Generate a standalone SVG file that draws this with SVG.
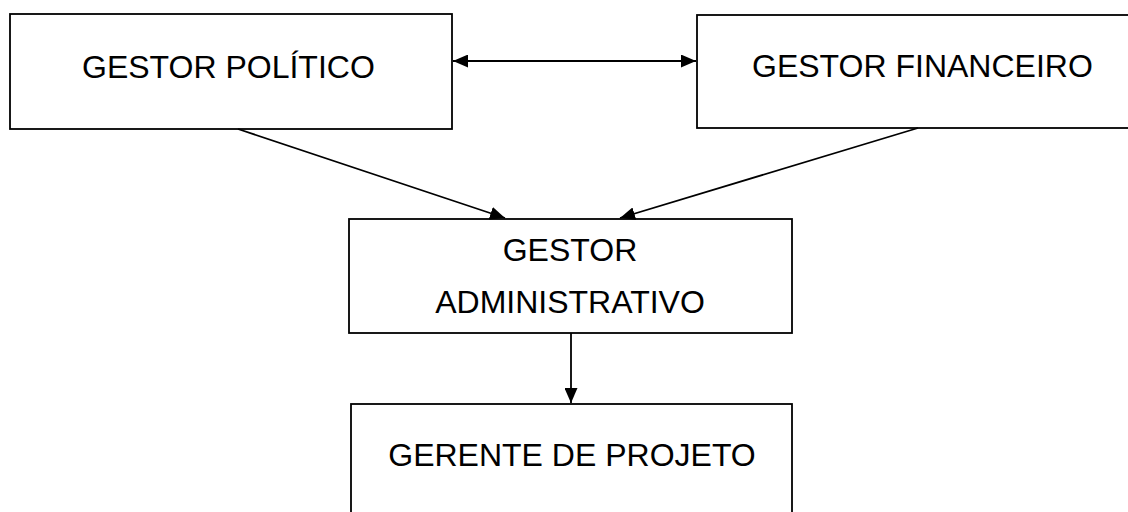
<svg xmlns="http://www.w3.org/2000/svg" width="1128" height="512" viewBox="0 0 1128 512">
<style>
.box{fill:#fff;stroke:#000;stroke-width:1.8}
.lbl{font-family:"Liberation Sans",Arial,sans-serif;font-size:32px;fill:#000}
.con{stroke:#000;stroke-width:1.8;fill:none}
</style>
<defs>
<marker id="ah" viewBox="0 0 15 13" refX="15" refY="6.5" markerWidth="15" markerHeight="13" markerUnits="userSpaceOnUse" orient="auto-start-reverse">
<path d="M0,0 L15,6.5 L0,13 Z" fill="#000"/>
</marker>
</defs>
<rect width="1128" height="512" fill="#fff"/>
<g id="gestor-politico">
<rect class="box" x="10" y="14" width="442" height="115"/>
<text class="lbl" x="82" y="78">GESTOR POLÍTICO</text>
</g>
<g id="gestor-financeiro">
<rect class="box" x="697" y="15" width="500" height="113"/>
<text class="lbl" x="752" y="77">GESTOR FINANCEIRO</text>
</g>
<g id="gestor-administrativo">
<rect class="box" x="349" y="219" width="443" height="114"/>
<text class="lbl" x="570" y="261" text-anchor="middle">GESTOR</text>
<text class="lbl" x="570" y="313" text-anchor="middle">ADMINISTRATIVO</text>
</g>
<g id="gerente-de-projeto">
<rect class="box" x="351" y="404" width="441" height="130"/>
<text class="lbl" x="572" y="466" text-anchor="middle">GERENTE DE PROJETO</text>
</g>
<g id="connectors">
<line class="con" x1="453" y1="61" x2="696" y2="61" marker-start="url(#ah)" marker-end="url(#ah)"/>
<line class="con" x1="238" y1="129" x2="505" y2="218" marker-end="url(#ah)"/>
<line class="con" x1="918" y1="128" x2="620" y2="218" marker-end="url(#ah)"/>
<line class="con" x1="571" y1="333" x2="571" y2="403" marker-end="url(#ah)"/>
</g>
</svg>
